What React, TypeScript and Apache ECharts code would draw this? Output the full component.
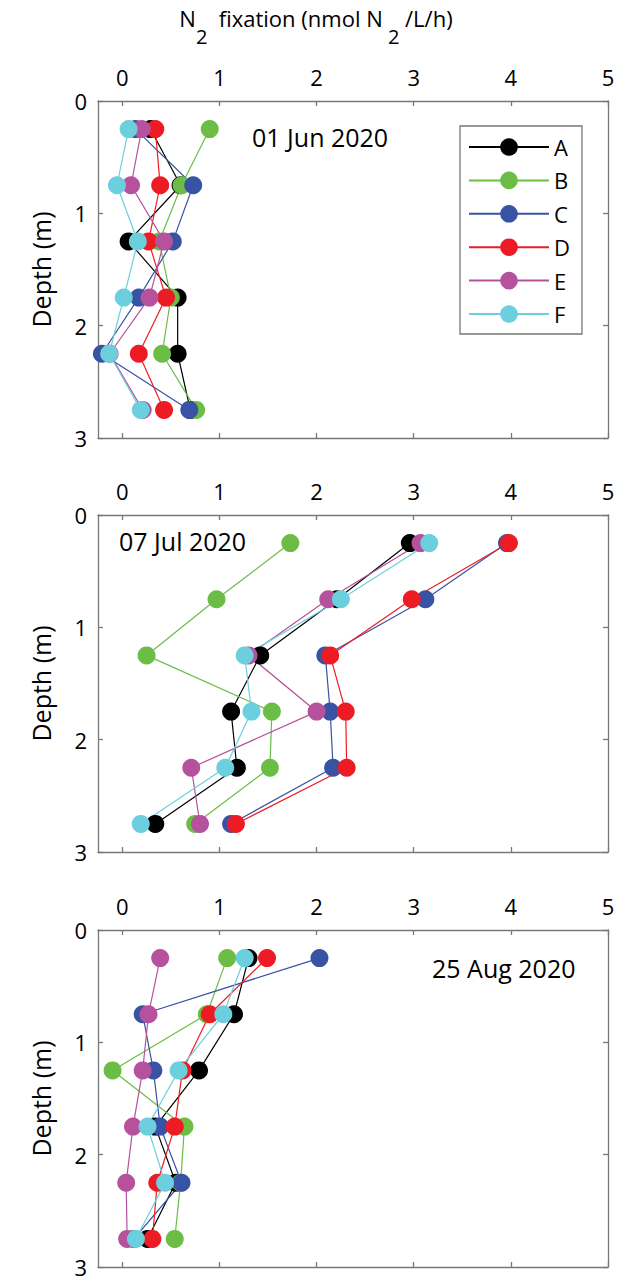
import React, { useEffect, useRef } from "react";
import * as echarts from "echarts";

// Sampling depths (m) and stations
const depths = [0.25, 0.75, 1.25, 1.75, 2.25, 2.75];
const stations = ["A", "B", "C", "D", "E", "F"];
const xTicks = [0, 1, 2, 3, 4, 5];
const yTicks = [0, 1, 2, 3];
const panelDates = ["01 Jun 2020", "07 Jul 2020", "25 Aug 2020"];

// N2 fixation (nmol N2/L/h) per station, ordered by depth — 01 Jun 2020
const junA = [0.29, 0.6, 0.065, 0.57, 0.57, 0.7];
const junB = [0.9, 0.61, 0.38, 0.5, 0.41, 0.76];
const junC = [0.135, 0.73, 0.52, 0.17, -0.21, 0.69];
const junD = [0.34, 0.39, 0.27, 0.45, 0.17, 0.43];
const junE = [0.2, 0.09, 0.43, 0.28, -0.13, 0.21];
const junF = [0.065, -0.055, 0.16, 0.015, -0.135, 0.19];

// 07 Jul 2020
const julA = [2.96, 2.21, 1.42, 1.12, 1.18, 0.34];
const julB = [1.73, 0.97, 0.25, 1.54, 1.52, 0.75];
const julC = [3.96, 3.12, 2.09, 2.14, 2.17, 1.12];
const julD = [3.98, 2.98, 2.14, 2.3, 2.31, 1.17];
const julE = [3.07, 2.12, 1.3, 2.0, 0.71, 0.8];
const julF = [3.16, 2.25, 1.26, 1.33, 1.06, 0.19];

// 25 Aug 2020
const augA = [1.3, 1.15, 0.79, 0.34, 0.55, 0.26];
const augB = [1.08, 0.87, -0.1, 0.64, 0.6, 0.54];
const augC = [2.03, 0.21, 0.32, 0.39, 0.61, 0.12];
const augD = [1.49, 0.9, 0.62, 0.54, 0.36, 0.31];
const augE = [0.39, 0.27, 0.21, 0.11, 0.04, 0.05];
const augF = [1.26, 1.04, 0.58, 0.26, 0.44, 0.14];

const panels = [
  [junA, junB, junC, junD, junE, junF],
  [julA, julB, julC, julD, julE, julF],
  [augA, augB, augC, augD, augE, augF],
];

const FONT = "'Open Sans', 'Noto Sans', sans-serif";
const stationColors = ["#000000", "#6cbd45", "#3953a4", "#ed1c24", "#b6519e", "#6ccfde"];
const AXIS_COLOR = "#777777";

const GRID_LEFT = 98;
const GRID_WIDTH = 510;
const GRID_HEIGHT = 337;
const gridTops = [101, 515, 930];

// date label placement per panel
const dateLabelPos = [
  { x: 252, y: 137 },
  { x: 119, y: 541 },
  { x: 432, y: 968 },
];

function buildOption(): echarts.EChartsOption {
  const grid: any[] = [];
  const xAxis: any[] = [];
  const yAxis: any[] = [];
  const series: any[] = [];

  const lineStyle = { color: AXIS_COLOR, width: 1.3 };

  panels.forEach((panel, i) => {
    grid.push({
      left: GRID_LEFT,
      top: gridTops[i],
      width: GRID_WIDTH,
      height: GRID_HEIGHT,
      containLabel: false,
    });

    const xBase = {
      type: "value",
      gridIndex: i,
      min: -0.25,
      max: 5,
      splitLine: { show: false },
      axisLine: { show: true, onZero: false, lineStyle },
      axisTick: { show: true, inside: true, length: 5, customValues: xTicks, lineStyle },
    };
    xAxis.push({
      ...xBase,
      position: "top",
      axisLabel: {
        show: true,
        customValues: xTicks,
        margin: 13,
        fontSize: 22,
        fontFamily: FONT,
        color: "#000",
      },
    });
    xAxis.push({ ...xBase, position: "bottom", axisLabel: { show: false } });

    const yBase = {
      type: "value",
      gridIndex: i,
      inverse: true,
      min: 0,
      max: 3,
      interval: 1,
      splitLine: { show: false },
      axisLine: { show: true, onZero: false, lineStyle },
      axisTick: { show: true, inside: true, length: 5, customValues: yTicks, lineStyle },
    };
    yAxis.push({
      ...yBase,
      position: "left",
      axisLabel: {
        show: true,
        customValues: yTicks,
        margin: 11,
        fontSize: 22,
        fontFamily: FONT,
        color: "#000",
      },
      name: "Depth (m)",
      nameLocation: "middle",
      nameGap: 45,
      nameTextStyle: { fontSize: 25, fontFamily: FONT, color: "#000" },
    });
    yAxis.push({ ...yBase, position: "right", axisLabel: { show: false } });

    panel.forEach((values, j) => {
      series.push({
        type: "line",
        name: stations[j],
        xAxisIndex: 2 * i,
        yAxisIndex: 2 * i,
        data: values.map((v, k) => [v, depths[k]]),
        symbol: "circle",
        symbolSize: 18,
        showSymbol: true,
        clip: false,
        lineStyle: { color: stationColors[j], width: 1.2 },
        itemStyle: { color: stationColors[j], borderWidth: 0 },
        emphasis: { disabled: true },
      });
    });
  });

  const graphic: any[] = [
    {
      type: "text",
      x: 316,
      y: 27,
      style: {
        text: "{n|N}{s|2}{n|  fixation (nmol N}{s| 2}{n| /L/h)}",
        textAlign: "center",
        textVerticalAlign: "middle",
        rich: {
          n: { fontSize: 22, fontFamily: FONT, color: "#000", lineHeight: 26, padding: [0, 0, 18, 0] },
          s: { fontSize: 20, fontFamily: FONT, color: "#000", lineHeight: 26, padding: [18, 0, 0, 0] },
        },
      },
    },
  ];
  panelDates.forEach((d, i) => {
    graphic.push({
      type: "text",
      x: dateLabelPos[i].x,
      y: dateLabelPos[i].y,
      style: {
        text: d,
        fontSize: 25,
        fontFamily: FONT,
        fill: "#000",
        textAlign: "left",
        textVerticalAlign: "middle",
      },
    });
  });

  return {
    animation: false,
    backgroundColor: "#ffffff",
    grid,
    xAxis,
    yAxis,
    series,
    graphic,
    legend: {
      show: true,
      data: stations,
      orient: "vertical",
      left: 460,
      top: 126,
      itemWidth: 80,
      itemHeight: 22,
      itemGap: 11.4,
      padding: [10, 12, 9, 8],
      borderColor: AXIS_COLOR,
      borderWidth: 1.3,
      backgroundColor: "#ffffff",
      selectedMode: false,
      textStyle: { fontSize: 22, fontFamily: FONT, color: "#000" },
    },
  };
}

export default function App() {
  const ref = useRef<HTMLDivElement>(null);

  useEffect(() => {
    document.body.style.margin = "0";
    if (!ref.current) return;
    const chart = echarts.init(ref.current, undefined, { renderer: "svg" });
    chart.setOption(buildOption());
    return () => chart.dispose();
  }, []);

  return <div ref={ref} style={{ width: 628, height: 1280 }} />;
}
